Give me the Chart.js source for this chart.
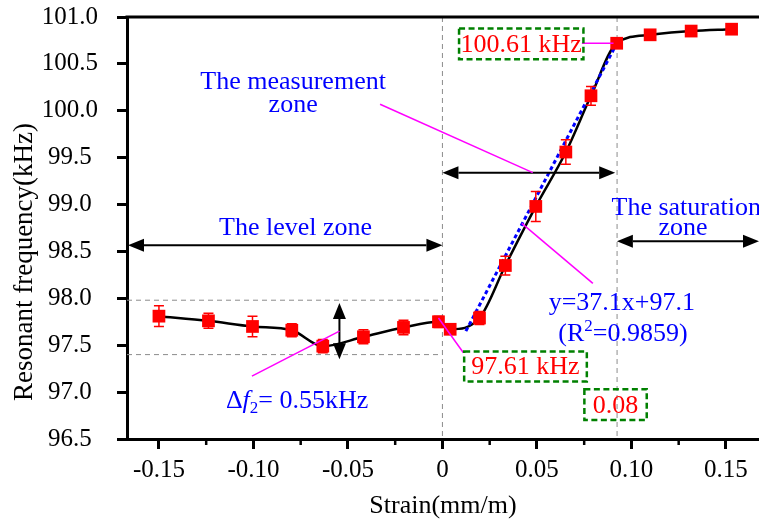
<!DOCTYPE html>
<html>
<head>
<meta charset="utf-8">
<script src="https://cdn.jsdelivr.net/npm/chart.js@4.4.1/dist/chart.umd.min.js"></script>
<style>
  html, body { margin: 0; padding: 0; background: #fff; }
  #grafica { display: block; }
</style>
</head>
<body>
<canvas id="grafica" width="759" height="522"></canvas>
<script>
// datos
const strain = [-0.15, -0.1238, -0.1005, -0.0797, -0.0633, -0.0418, -0.0206, -0.0021, 0.0041, 0.0196,
                0.0333, 0.0494, 0.0653, 0.0786, 0.0922, 0.1099, 0.1316, 0.153];
const frequency = [97.81, 97.76, 97.70, 97.66, 97.49, 97.59, 97.69, 97.75, 97.67, 97.79,
                   98.35, 98.98, 99.56, 100.16, 100.72, 100.81, 100.85, 100.87];
const errorBar = [0.11, 0.08, 0.11, 0.07, 0.07, 0.075, 0.077, 0.06, 0.03, 0.07,
                  0.10, 0.16, 0.13, 0.10, 0.05, 0.03, 0.02, 0.01];
const fitStrain = [0.0124, 0.0923];
const fitFrequency = [97.65, 100.72];
const xTicks = [-0.15, -0.10, -0.05, 0, 0.05, 0.10, 0.15];
const xMinorTicks = [-0.125, -0.075, -0.025, 0.025, 0.075, 0.125];

const FUENTE = "'Liberation Serif', 'Times New Roman', serif";
Chart.defaults.font.family = FUENTE;
Chart.defaults.color = "#000";

function puntos(xs, ys) {
    return xs.map((x, i) => ({ x: x, y: ys[i] }));
}

function flechaDoble(ctx, x1, y1, x2, y2) {
    const largo = 16, ancho = 6.5;
    const ang = Math.atan2(y2 - y1, x2 - x1);
    ctx.strokeStyle = "#000";
    ctx.fillStyle = "#000";
    ctx.lineWidth = 2;
    ctx.beginPath();
    ctx.moveTo(x1 + Math.cos(ang) * largo, y1 + Math.sin(ang) * largo);
    ctx.lineTo(x2 - Math.cos(ang) * largo, y2 - Math.sin(ang) * largo);
    ctx.stroke();
    [[x1, y1, ang + Math.PI], [x2, y2, ang]].forEach(([x, y, a]) => {
        ctx.beginPath();
        ctx.moveTo(x, y);
        ctx.lineTo(x - Math.cos(a) * largo - Math.sin(a) * ancho, y - Math.sin(a) * largo + Math.cos(a) * ancho);
        ctx.lineTo(x - Math.cos(a) * largo + Math.sin(a) * ancho, y - Math.sin(a) * largo - Math.cos(a) * ancho);
        ctx.closePath();
        ctx.fill();
    });
}

function linea(ctx, x1, y1, x2, y2, color, ancho, guion) {
    ctx.save();
    ctx.strokeStyle = color;
    ctx.lineWidth = ancho;
    ctx.setLineDash(guion || []);
    ctx.beginPath();
    ctx.moveTo(x1, y1);
    ctx.lineTo(x2, y2);
    ctx.stroke();
    ctx.restore();
}

function texto(ctx, t, x, y, color, size) {
    ctx.font = size + "px " + FUENTE;
    ctx.fillStyle = color;
    ctx.textAlign = "center";
    ctx.textBaseline = "alphabetic";
    ctx.fillText(t, x, y);
}

// trozos de texto con estilo: [texto, tamaño, italica, desplazamiento vertical]
function textoCompuesto(ctx, partes, cx, y, color) {
    ctx.textAlign = "left";
    ctx.textBaseline = "alphabetic";
    ctx.fillStyle = color;
    let total = 0;
    partes.forEach(p => {
        ctx.font = (p[2] ? "italic " : "") + p[1] + "px " + FUENTE;
        total += ctx.measureText(p[0]).width;
    });
    let x = cx - total / 2;
    partes.forEach(p => {
        ctx.font = (p[2] ? "italic " : "") + p[1] + "px " + FUENTE;
        ctx.fillText(p[0], x, y + p[3]);
        x += ctx.measureText(p[0]).width;
    });
}

function caja(ctx, x1, y1, x2, y2) {
    ctx.save();
    ctx.strokeStyle = "#008000";
    ctx.lineWidth = 2.5;
    ctx.setLineDash([6, 3.5]);
    ctx.strokeRect(x1, y1, x2 - x1, y2 - y1);
    ctx.restore();
}

const anotaciones = {
    id: "anotaciones",
    beforeDatasetsDraw(chart) {
        const ctx = chart.ctx, X = chart.scales.x, Y = chart.scales.y, a = chart.chartArea;
        const gris = "#8c8c8c";
        linea(ctx, X.getPixelForValue(0), a.top, X.getPixelForValue(0), a.bottom, gris, 1, [5, 4]);
        linea(ctx, X.getPixelForValue(0.0924), a.top, X.getPixelForValue(0.0924), a.bottom, gris, 1, [5, 4]);
        linea(ctx, a.left, Y.getPixelForValue(97.98), X.getPixelForValue(0), Y.getPixelForValue(97.98), gris, 1, [5, 4]);
        linea(ctx, a.left, Y.getPixelForValue(97.40), X.getPixelForValue(0), Y.getPixelForValue(97.40), gris, 1, [5, 4]);
    },
    afterDatasetsDraw(chart) {
        const ctx = chart.ctx, X = chart.scales.x, Y = chart.scales.y;
        ctx.save();
        ctx.strokeStyle = "#ff0000";
        ctx.lineWidth = 1.5;
        strain.forEach((s, i) => {
            const x = X.getPixelForValue(s);
            const yA = Y.getPixelForValue(frequency[i] + errorBar[i]);
            const yB = Y.getPixelForValue(frequency[i] - errorBar[i]);
            ctx.beginPath();
            ctx.moveTo(x, yA); ctx.lineTo(x, yB);
            ctx.moveTo(x - 5, yA); ctx.lineTo(x + 5, yA);
            ctx.moveTo(x - 5, yB); ctx.lineTo(x + 5, yB);
            ctx.stroke();
        });
        ctx.restore();
    },
    afterDraw(chart) {
        const ctx = chart.ctx, X = chart.scales.x, Y = chart.scales.y, a = chart.chartArea;
        const px = v => X.getPixelForValue(v);
        const py = v => Y.getPixelForValue(v);
        ctx.save();

        // borde superior
        linea(ctx, a.left - 1.5, a.top, a.right, a.top, "#000", 3);
        // marcas menores del eje x
        xMinorTicks.forEach(v => linea(ctx, px(v), a.bottom, px(v), a.bottom + 6, "#000", 2.5));

        // flechas de zonas
        flechaDoble(ctx, a.left + 1, py(98.565), px(0), py(98.565));
        flechaDoble(ctx, px(0), py(99.339), px(0.0914), py(99.339));
        flechaDoble(ctx, px(0.0923), py(98.608), a.right, py(98.608));
        flechaDoble(ctx, px(-0.0545), py(97.95), px(-0.0545), py(97.35));

        // lineas de llamada
        const magenta = "#ff00ff";
        linea(ctx, px(-0.033), py(100.07), px(0.0478), py(99.34), magenta, 1.5);
        linea(ctx, px(-0.1008), py(97.17), px(-0.0545), py(97.65), magenta, 1.5);
        linea(ctx, px(-0.0021), py(97.79), px(0.0111), py(97.42), magenta, 1.5);
        linea(ctx, px(0.042), py(98.80), px(0.0796), py(98.16), magenta, 1.5);
        linea(ctx, px(0.0738), py(100.72), px(0.0905), py(100.72), magenta, 1.5);

        // cajas verdes
        caja(ctx, px(0.0088), py(100.877), px(0.0746), py(100.549));
        caja(ctx, px(0.0115), py(97.433), px(0.0764), py(97.112));
        caja(ctx, px(0.0751), py(97.031), px(0.1081), py(96.703));

        const azul = "#0000ff", rojo = "#ff0000";
        texto(ctx, "100.61 kHz", px(0.0416), py(100.63), rojo, 26);
        texto(ctx, "97.61 kHz", px(0.0439), py(97.19), rojo, 26);
        texto(ctx, "0.08", px(0.0916), py(96.78), rojo, 26);
        texto(ctx, "The measurement", px(-0.079), py(100.235), azul, 26);
        texto(ctx, "zone", px(-0.079), py(99.99), azul, 26);
        texto(ctx, "The level zone", px(-0.0777), py(98.68), azul, 26);
        texto(ctx, "The saturation", px(0.129), py(98.89), azul, 26);
        texto(ctx, "zone", px(0.1273), py(98.68), azul, 26);
        texto(ctx, "y=37.1x+97.1", px(0.0949), py(97.878), azul, 26);
        textoCompuesto(ctx, [["(R", 26, false, 0], ["2", 17, false, -10], ["=0.9859)", 26, false, 0]],
            px(0.0955), py(97.54), azul);
        textoCompuesto(ctx, [["\u0394", 26, false, 0], ["f", 26, true, 0], ["2", 17, false, 5], ["= 0.55kHz", 26, false, 0]],
            px(-0.0769), py(96.83), azul);

        // titulo del eje y
        ctx.translate(25, 262);
        ctx.rotate(-Math.PI / 2);
        ctx.font = "27px " + FUENTE;
        ctx.fillStyle = "#000";
        ctx.textAlign = "center";
        ctx.textBaseline = "middle";
        ctx.fillText("Resonant frequency(kHz)", 0, 0);
        ctx.restore();
    }
};

new Chart(document.getElementById("grafica").getContext("2d"), {
    type: "scatter",
    data: {
        datasets: [{
            data: puntos(strain, frequency),
            showLine: false,
            pointStyle: "rect",
            pointRadius: 9,
            backgroundColor: "#ff0000",
            borderWidth: 0
        }, {
            data: puntos(fitStrain, fitFrequency),
            showLine: true,
            borderColor: "#0000ff",
            borderWidth: 3,
            borderDash: [4, 3],
            pointRadius: 0
        }, {
            data: puntos(strain, frequency),
            showLine: true,
            cubicInterpolationMode: "monotone",
            borderColor: "#000",
            borderWidth: 2.5,
            pointRadius: 0
        }]
    },
    options: {
        responsive: false,
        animation: false,
        devicePixelRatio: 1,
        layout: { autoPadding: false, padding: { top: 17, right: 0, bottom: 0, left: 0 } },
        plugins: { legend: { display: false }, tooltip: { enabled: false } },
        scales: {
            x: {
                type: "linear",
                min: -0.1669,
                max: 0.1675,
                afterBuildTicks: scale => { scale.ticks = xTicks.map(v => ({ value: v })); },
                afterFit: scale => {
                    scale.height = 83;
                    scale.paddingLeft = 0;
                    scale.paddingRight = 0;
                },
                grid: { drawOnChartArea: false, tickLength: 10, tickWidth: 3, tickColor: "#000" },
                border: { display: true, width: 3, color: "#000" },
                ticks: {
                    font: { size: 25 },
                    padding: 6,
                    maxRotation: 0,
                    callback: v => v === 0 ? "0" : v.toFixed(2)
                },
                title: { display: true, text: "Strain(mm/m)", font: { size: 26 }, padding: { top: 0, bottom: 0 } }
            },
            y: {
                min: 96.5,
                max: 101.0,
                afterFit: scale => {
                    scale.width = 127;
                    scale.paddingTop = 0;
                    scale.paddingBottom = 0;
                },
                grid: { drawOnChartArea: false, tickLength: 10, tickWidth: 3, tickColor: "#000" },
                border: { display: true, width: 3, color: "#000" },
                ticks: {
                    stepSize: 0.5,
                    font: { size: 25 },
                    padding: 19,
                    crossAlign: "center",
                    callback: v => v.toFixed(1)
                }
            }
        }
    },
    plugins: [anotaciones]
});
</script>
</body>
</html>
